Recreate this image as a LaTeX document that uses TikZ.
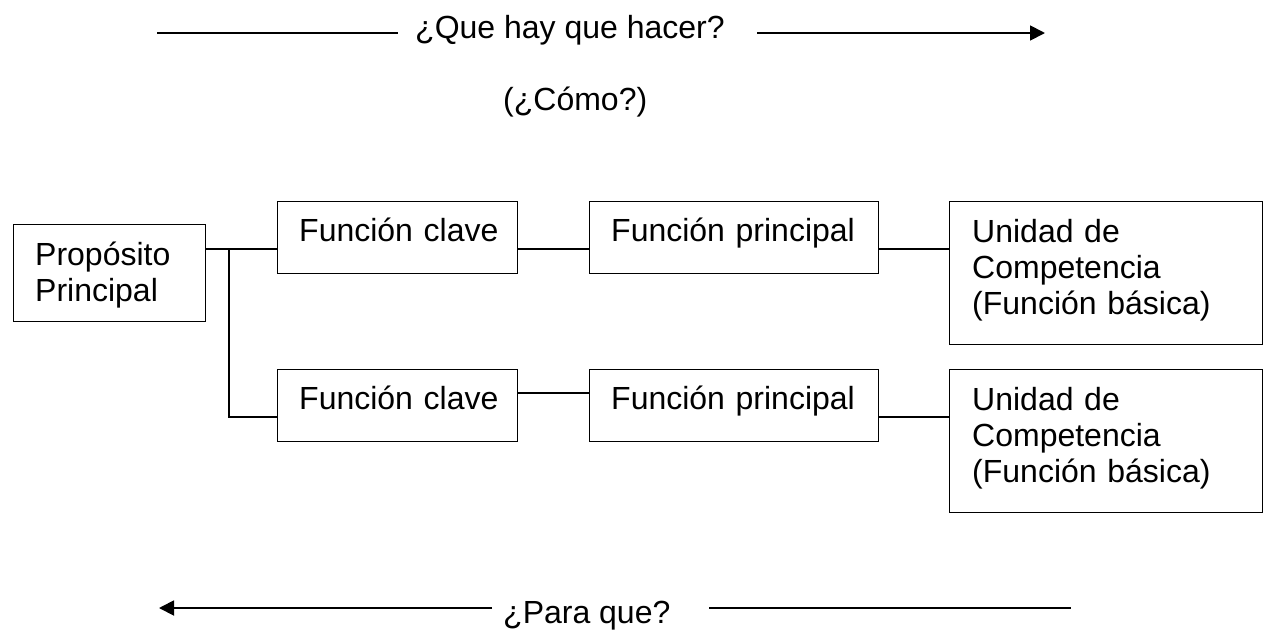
\documentclass[tikz,border=0pt]{standalone}
\usepackage{fontspec}
\setmainfont{Liberation Sans}
\usetikzlibrary{arrows.meta,calc}
\begin{document}
\begin{tikzpicture}[x=1pt,y=-1pt,
  box/.style={draw,line width=1.3pt,rectangle,inner sep=0pt,anchor=north west},
  txt/.style={inner sep=0pt,anchor=base west,align=left,font=\fontsize{32}{36}\selectfont},
  lbl/.style={inner sep=0pt,anchor=base west,font=\fontsize{32}{36}\selectfont},
  conn/.style={line width=1.3pt},
  arr/.style={line width=1.8pt},
  tipend/.style={-{Triangle[length=15pt,width=15pt]}}
]
\useasboundingbox (0,0) rectangle (1264,630);
% boxes
\node[box,minimum width=192pt,minimum height=97pt] (pp) at (13,224) {};
\node[box,minimum width=240pt,minimum height=72pt] (c1) at (277,201) {};
\node[box,minimum width=289pt,minimum height=72pt] (p1) at (589,201) {};
\node[box,minimum width=313pt,minimum height=143pt] (u1) at (949,201) {};
\node[box,minimum width=240pt,minimum height=72pt] (c2) at (277,369) {};
\node[box,minimum width=289pt,minimum height=72pt] (p2) at (589,369) {};
\node[box,minimum width=313pt,minimum height=143pt] (u2) at (949,369) {};
% box texts
\node[txt,text width=165pt] (ppt) at ($(pp.north west)+(22,41)$) {Propósito\\Principal};
\node[txt,text width=215pt] (c1t) at ($(c1.north west)+(22,40)$) {Función clave};
\node[txt,text width=265pt] (p1t) at ($(p1.north west)+(22,40)$) {Función principal};
\node[txt,text width=285pt] (u1t) at ($(u1.north west)+(23,41)$) {Unidad de\\Competencia\\(Función básica)};
\node[txt,text width=215pt] (c2t) at ($(c2.north west)+(22,40)$) {Función clave};
\node[txt,text width=265pt] (p2t) at ($(p2.north west)+(22,40)$) {Función principal};
\node[txt,text width=285pt] (u2t) at ($(u2.north west)+(23,41)$) {Unidad de\\Competencia\\(Función básica)};
% connectors
\coordinate (j1) at (229,249);
\coordinate (j2) at (229,417);
\coordinate (k) at (0,393);
\draw[conn] (pp.east |- j1) -- (c1.west |- j1);
\draw[conn] (j1) -- (j2) -- (c2.west |- j2);
\draw[conn] (c1.east |- j1) -- (p1.west |- j1);
\draw[conn] (p1.east |- j1) -- (u1.west |- j1);
\draw[conn] (c2.east |- k) -- (p2.west |- k);
\draw[conn] (p2.east |- j2) -- (u2.west |- j2);
% top arrow
\node[lbl] (q) at (415,38) {¿Que hay que hacer?};
\coordinate (a1) at (157,33);
\coordinate (a2) at (398,33);
\coordinate (a3) at (757,33);
\coordinate (a4) at (1045,33);
\draw[arr] (a1) -- (a2);
\draw[arr,tipend] (a3) -- (a4);
\node[lbl] (como) at (503,110) {(¿Cómo?)};
% bottom arrow
\node[lbl] (pq) at (503,623) {¿Para que?};
\coordinate (b1) at (492,608);
\coordinate (b2) at (159,608);
\coordinate (b3) at (709,608);
\coordinate (b4) at (1071,608);
\draw[arr,tipend] (b1) -- (b2);
\draw[arr] (b3) -- (b4);
\end{tikzpicture}
\end{document}
